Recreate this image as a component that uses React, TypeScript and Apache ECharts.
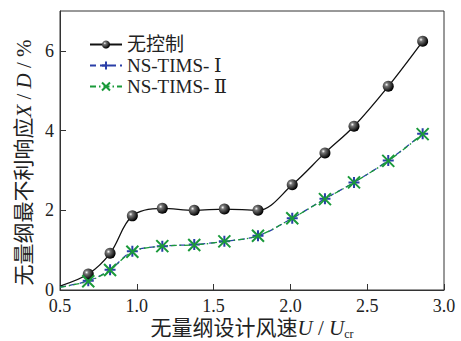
import React, { useEffect, useRef } from "react";
import * as echarts from "echarts";

// Wind speed (U / Ucr) at which responses were evaluated; 0.5 is the curve origin (no marker).
const windSpeed = [0.5, 0.684, 0.826, 0.971, 1.166, 1.374, 1.57, 1.789, 2.012, 2.225, 2.414, 2.637, 2.861];
const noControl = [0.1, 0.4, 0.92, 1.86, 2.05, 2.0, 2.03, 2.0, 2.64, 3.44, 4.11, 5.11, 6.24];
const nsTimsI = [0.07, 0.23, 0.51, 0.97, 1.1, 1.14, 1.22, 1.36, 1.8, 2.29, 2.7, 3.25, 3.92];
const nsTimsII = [0.07, 0.22, 0.5, 0.96, 1.1, 1.13, 1.22, 1.36, 1.8, 2.28, 2.7, 3.24, 3.91];
const seriesNames = ["无控制", "NS-TIMS- Ⅰ", "NS-TIMS- Ⅱ"];

const serif = "'Liberation Serif', 'DejaVu Serif', serif";
const cjk = "'Liberation Serif', 'DejaVu Serif', 'Noto Sans CJK SC', serif";

const toData = (ys: number[]) =>
  ys.map((y, i) =>
    i === 0 ? { value: [windSpeed[i], y], symbol: "none" } : { value: [windSpeed[i], y] }
  );

const sphere = {
  type: "radial",
  x: 0.35,
  y: 0.35,
  r: 0.65,
  colorStops: [
    { offset: 0, color: "#ffffff" },
    { offset: 0.25, color: "#777777" },
    { offset: 1, color: "#000000" },
  ],
};

export default function App() {
  const ref = useRef<HTMLDivElement>(null);

  useEffect(() => {
    document.body.style.margin = "0";
    const chart = echarts.init(ref.current!, null, { renderer: "svg" });
    chart.setOption({
      animation: false,
      backgroundColor: "#ffffff",
      grid: {
        left: 60,
        right: 17,
        top: 11,
        bottom: 51,
        outerBoundsMode: "none",
        containLabel: false,
        show: true,
        borderColor: "#333",
        borderWidth: 1,
        backgroundColor: "transparent",
      },
      legend: {
        left: 84,
        top: 30,
        orient: "vertical",
        itemWidth: 32,
        itemHeight: 10,
        itemGap: 2,
        textStyle: { fontFamily: cjk, fontSize: 19, color: "#222" },
        data: seriesNames,
      },
      xAxis: {
        type: "value",
        min: 0.5,
        max: 3.0,
        interval: 0.5,
        axisLine: { show: true, lineStyle: { color: "#333", width: 1 } },
        axisTick: { show: true, inside: true, length: 6, lineStyle: { color: "#333" } },
        splitLine: { show: false },
        axisLabel: {
          fontFamily: serif,
          fontSize: 18,
          color: "#222",
          margin: 7,
          formatter: (v: number) => v.toFixed(1),
        },
        name: "{a|无量纲设计风速}{i|U}{a| / }{i|U}{s|cr}",
        nameLocation: "middle",
        nameGap: 26,
        nameMoveOverlap: false,
        nameTextStyle: {
          lineHeight: 24,
          verticalAlign: "top",
          rich: {
            a: { fontFamily: cjk, fontSize: 21, lineHeight: 24, color: "#222" },
            i: { fontFamily: serif, fontSize: 21, lineHeight: 24, fontStyle: "italic", color: "#222" },
            s: { fontFamily: serif, fontSize: 12, lineHeight: 14, color: "#222", verticalAlign: "bottom" },
          },
        },
      },
      yAxis: {
        type: "value",
        min: 0,
        max: 7,
        interval: 2,
        axisLine: { show: true, lineStyle: { color: "#333", width: 1 } },
        axisTick: { show: true, inside: true, length: 6, lineStyle: { color: "#333" } },
        splitLine: { show: false },
        axisLabel: {
          fontFamily: serif,
          fontSize: 18,
          color: "#222",
          margin: 6,
          showMaxLabel: false,
          padding: [0, 0, 6, 0],
        },
        name: "{a|无量纲最不利响应}{i|X}{a| / }{i|D}{a| / %}",
        nameLocation: "middle",
        nameRotate: 90,
        nameGap: 26,
        nameTextStyle: {
          padding: [0, 24, 0, 0],
          rich: {
            a: { fontFamily: cjk, fontSize: 21, color: "#222" },
            i: { fontFamily: serif, fontSize: 21, fontStyle: "italic", color: "#222" },
          },
        },
      },
      series: [
        {
          name: seriesNames[0],
          type: "line",
          smooth: 0.35,
          data: toData(noControl),
          symbol: "circle",
          symbolSize: 11,
          lineStyle: { color: "#111", width: 1.3 },
          itemStyle: { color: sphere as any, borderWidth: 0 },
          z: 3,
        },
        {
          name: seriesNames[1],
          type: "line",
          smooth: 0.35,
          data: toData(nsTimsI),
          symbol: "path://M0,5L10,5M5,0L5,10",
          symbolSize: 11,
          lineStyle: { color: "#2a3fa8", width: 1.3, type: [6, 4] },
          itemStyle: { color: "none", borderColor: "#2a3fa8", borderWidth: 2 },
          z: 2,
        },
        {
          name: seriesNames[2],
          type: "line",
          smooth: 0.35,
          data: toData(nsTimsII),
          symbol: "path://M0,0L10,10M10,0L0,10",
          symbolSize: 12,
          lineStyle: { color: "#1a9a3a", width: 1.3, type: [6, 3, 1.5, 3] },
          itemStyle: { color: "none", borderColor: "#1a9a3a", borderWidth: 2 },
          z: 4,
        },
      ],
    });
    return () => chart.dispose();
  }, []);

  return <div ref={ref} style={{ width: 461, height: 341 }} />;
}
